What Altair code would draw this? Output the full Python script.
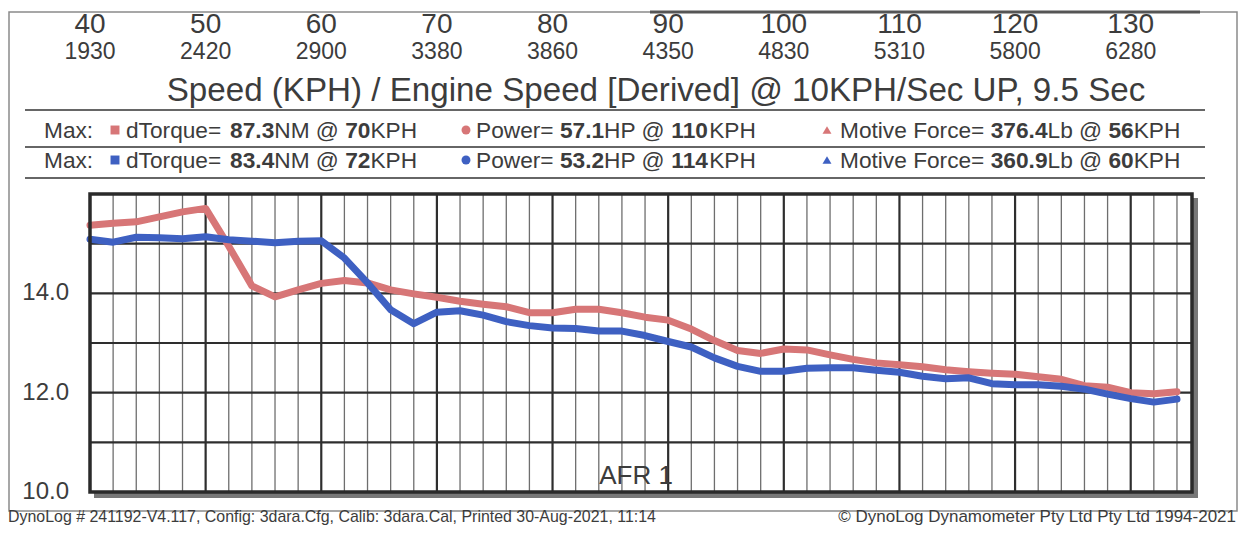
import altair as alt
import pandas as pd

# ---------------- data read from the sheet ----------------
kph = [40, 42, 44, 46, 48, 50, 52, 54, 56, 58, 60, 62, 64, 66, 68, 70, 72, 74, 76, 78,
       80, 82, 84, 86, 88, 90, 92, 94, 96, 98, 100, 102, 104, 106, 108, 110, 112, 114,
       116, 118, 120, 122, 124, 126, 128, 130, 132, 134]
afr_red = [15.37, 15.41, 15.44, 15.54, 15.64, 15.71, 14.95, 14.15, 13.93, 14.07, 14.20,
           14.26, 14.21, 14.07, 13.99, 13.92, 13.84, 13.78, 13.73, 13.61, 13.61, 13.68,
           13.68, 13.61, 13.52, 13.46, 13.28, 13.05, 12.85, 12.79, 12.88, 12.86, 12.76,
           12.67, 12.60, 12.56, 12.52, 12.46, 12.42, 12.39, 12.37, 12.32, 12.27, 12.14,
           12.11, 12.00, 11.98, 12.02]
afr_blue = [15.09, 15.03, 15.13, 15.12, 15.10, 15.14, 15.08, 15.05, 15.02, 15.05, 15.06,
            14.71, 14.21, 13.67, 13.39, 13.62, 13.65, 13.56, 13.43, 13.35, 13.30, 13.29,
            13.24, 13.24, 13.15, 13.03, 12.92, 12.70, 12.53, 12.43, 12.43, 12.49, 12.50,
            12.50, 12.45, 12.41, 12.33, 12.28, 12.30, 12.18, 12.16, 12.16, 12.13, 12.07,
            11.97, 11.88, 11.81, 11.87]
top_kph = [40, 50, 60, 70, 80, 90, 100, 110, 120, 130]
top_rpm = [1930, 2420, 2900, 3380, 3860, 4350, 4830, 5310, 5800, 6280]
y_label_values = [10, 12, 14]
minor_x = [v for v in range(42, 135, 2) if v % 10 != 0]
major_x = [50, 60, 70, 80, 90, 100, 110, 120, 130]
grid_y = [11, 12, 13, 14, 15]

title_text = "Speed (KPH) / Engine Speed [Derived] @ 10KPH/Sec UP, 9.5 Sec"
legend_rows = [
    [[("dTorque= ", 0), ("87.3", 1), ("NM @ ", 0), ("70", 1), ("KPH", 0)],
     [("Power= ", 0), ("57.1", 1), ("HP @ ", 0), ("110", 1), ("KPH", 0)],
     [("Motive Force= ", 0), ("376.4", 1), ("Lb @ ", 0), ("56", 1), ("KPH", 0)]],
    [[("dTorque= ", 0), ("83.4", 1), ("NM @ ", 0), ("72", 1), ("KPH", 0)],
     [("Power= ", 0), ("53.2", 1), ("HP @ ", 0), ("114", 1), ("KPH", 0)],
     [("Motive Force= ", 0), ("360.9", 1), ("Lb @ ", 0), ("60", 1), ("KPH", 0)]],
]
footer_left = "DynoLog # 241192-V4.117, Config: 3dara.Cfg, Calib: 3dara.Cal, Printed 30-Aug-2021, 11:14"
footer_right = "\u00a9 DynoLog Dynamometer Pty Ltd Pty Ltd 1994-2021"
afr_label = "AFR 1"

# ---------------- styling / layout ----------------
RED = "#d77677"
BLUE = "#3e60c2"
TXT = "#3c3c3c"
FONT = "Liberation Sans"
W, H = 1102, 298
PAD = {"left": 82, "top": 186, "right": 46, "bottom": 34}

ARIAL = {' ': 278, '!': 278, '#': 556, '(': 333, ')': 333, ',': 278, '-': 333, '.': 278,
         '/': 278, ':': 278, '=': 584, '@': 1015, '[': 278, ']': 278, '\u00a9': 737,
         'A': 667, 'B': 667, 'C': 722, 'D': 722, 'E': 667, 'F': 611, 'G': 778, 'H': 722,
         'I': 278, 'K': 667, 'L': 556, 'M': 833, 'N': 722, 'O': 778, 'P': 667, 'R': 722,
         'S': 667, 'T': 611, 'U': 722, 'V': 667, 'W': 944, 'a': 556, 'b': 556, 'c': 500,
         'd': 556, 'e': 556, 'f': 278, 'g': 556, 'h': 556, 'i': 222, 'j': 222, 'k': 500,
         'l': 222, 'm': 833, 'n': 556, 'o': 556, 'p': 556, 'q': 556, 'r': 333, 's': 500,
         't': 278, 'u': 556, 'v': 500, 'w': 722, 'x': 500, 'y': 500, 'z': 500}


def em(s):
    return sum(ARIAL.get(c, 556) for c in s) / 1000.0


xs = alt.Scale(domain=[40, 135.3], nice=False, zero=False)
ys = alt.Scale(domain=[10, 16], nice=False, zero=False)
one = pd.DataFrame({"o": [0]})

# page border
border = alt.Chart(one).mark_rect(fillOpacity=0, stroke="#8a8a8a", strokeWidth=1.5).encode(
    x=alt.value(-81), x2=alt.value(1147), y=alt.value(-182), y2=alt.value(317))
top_bar = alt.Chart(one).mark_rule(color="#555", strokeWidth=3).encode(
    x=alt.value(560), x2=alt.value(1110), y=alt.value(-182))

# separator rules in the header
sep = alt.Chart(pd.DataFrame({"py": [-84, -47, -16]})).mark_rule(color="#666", strokeWidth=1.8).encode(
    y=alt.Y("py:Q", scale=None), x=alt.value(-65), x2=alt.value(1115))

# grid
minor = alt.Chart(pd.DataFrame({"v": minor_x})).mark_rule(color="#6e6e6e", strokeWidth=1.3).encode(
    x=alt.X("v:Q", scale=xs, axis=None), y=alt.value(0), y2=alt.value(H))
major = alt.Chart(pd.DataFrame({"v": major_x})).mark_rule(color="#2e2e2e", strokeWidth=2.2).encode(
    x=alt.X("v:Q", scale=xs, axis=None), y=alt.value(0), y2=alt.value(H))
hgrid = alt.Chart(pd.DataFrame({"v": grid_y})).mark_rule(color="#2e2e2e", strokeWidth=2.2).encode(
    y=alt.Y("v:Q", scale=ys, axis=None), x=alt.value(0), x2=alt.value(W))

# frame with shadow
shadow_r = alt.Chart(one).mark_rule(color="#777", strokeWidth=6).encode(
    x=alt.value(W + 3), y=alt.value(4), y2=alt.value(H + 6))
shadow_b = alt.Chart(one).mark_rule(color="#777", strokeWidth=6).encode(
    y=alt.value(H + 3), x=alt.value(4), x2=alt.value(W + 6))
frame = alt.Chart(one).mark_rect(fillOpacity=0, stroke="#2a2a2a", strokeWidth=3.5).encode(
    x=alt.value(0), x2=alt.value(W), y=alt.value(0), y2=alt.value(H))

# data lines
df = pd.DataFrame({
    "kph": kph + kph,
    "afr": afr_red + afr_blue,
    "run": ["1"] * len(kph) + ["2"] * len(kph),
})
lines = alt.Chart(df).mark_line(strokeWidth=7, strokeJoin="round", strokeCap="round").encode(
    x=alt.X("kph:Q", scale=xs, axis=None),
    y=alt.Y("afr:Q", scale=ys, axis=None),
    color=alt.Color("run:N", scale=alt.Scale(domain=["1", "2"], range=[RED, BLUE]), legend=None),
)

# y labels through the y scale
ylab_df = pd.DataFrame({"v": y_label_values, "t": ["%.1f" % v for v in y_label_values]})
ylabs = alt.Chart(ylab_df).mark_text(fontSize=24, font=FONT, color=TXT, align="right",
                                     baseline="middle").encode(
    y=alt.Y("v:Q", scale=ys, axis=None), x=alt.value(-21), text="t:N")

# top speed / rpm labels
top_df = pd.DataFrame({"k": top_kph, "rpm": [str(r) for r in top_rpm], "kl": [str(k) for k in top_kph]})
kph_txt = alt.Chart(top_df).mark_text(fontSize=28, font=FONT, color=TXT, baseline="alphabetic").encode(
    x=alt.X("k:Q", scale=xs, axis=None), y=alt.value(-161), text="kl:N")
rpm_txt = alt.Chart(top_df).mark_text(fontSize=23, font=FONT, color=TXT, baseline="alphabetic").encode(
    x=alt.X("k:Q", scale=xs, axis=None), y=alt.value(-135), text="rpm:N")

title_size = 983 / em(title_text)
title = alt.Chart(one).mark_text(fontSize=title_size, font=FONT, color=TXT, baseline="alphabetic",
                                 text=title_text).encode(x=alt.value(566), y=alt.value(-93))

# legend rows
LFS = 22.7
group_x = [36, 386, 750]
row_y = [-63, -33]
seg_rows = []
for r, row in enumerate(legend_rows):
    seg_rows.append({"px": -46, "py": row_y[r], "t": "Max:", "b": 0})
    for g, group in enumerate(row):
        x = group_x[g]
        for t, b in group:
            seg_rows.append({"px": x, "py": row_y[r], "t": t, "b": b})
            x += em(t) * LFS
seg_df = pd.DataFrame(seg_rows)
leg_norm = alt.Chart(seg_df[seg_df.b == 0]).mark_text(
    fontSize=LFS, font=FONT, color=TXT, align="left", baseline="middle").encode(
    x=alt.X("px:Q", scale=None), y=alt.Y("py:Q", scale=None), text="t:N")
leg_bold = alt.Chart(seg_df[seg_df.b == 1]).mark_text(
    fontSize=LFS, font=FONT, color=TXT, align="left", baseline="middle", fontWeight="bold").encode(
    x=alt.X("px:Q", scale=None), y=alt.Y("py:Q", scale=None), text="t:N")

mk_rows = []
for r in range(2):
    col = RED if r == 0 else BLUE
    for px, shp in zip([25, 376, 737], ["square", "circle", "triangle-up"]):
        mk_rows.append({"px": px, "py": row_y[r] - 1, "shp": shp, "col": col})
markers = alt.Chart(pd.DataFrame(mk_rows)).mark_point(filled=True, size=80, opacity=1).encode(
    x=alt.X("px:Q", scale=None), y=alt.Y("py:Q", scale=None),
    shape=alt.Shape("shp:N", scale=None), color=alt.Color("col:N", scale=None))

afr_txt = alt.Chart(one).mark_text(fontSize=26, font=FONT, color=TXT, baseline="alphabetic",
                                   text=afr_label).encode(x=alt.value(546), y=alt.value(290))

fl_size = 652 / em(footer_left)
foot_l = alt.Chart(one).mark_text(fontSize=fl_size, font=FONT, color=TXT, align="left",
                                  baseline="middle", text=footer_left).encode(
    x=alt.value(-82), y=alt.value(323))
fr_size = 398 / em(footer_right)
foot_r = alt.Chart(one).mark_text(fontSize=fr_size, font=FONT, color=TXT, align="right",
                                  baseline="middle", text=footer_right).encode(
    x=alt.value(1146), y=alt.value(323))

chart = alt.layer(
    border, top_bar, sep, minor, major, hgrid, shadow_r, shadow_b, lines, frame, ylabs,
    kph_txt, rpm_txt, title, leg_norm, leg_bold, markers, afr_txt, foot_l, foot_r,
).properties(
    width=W, height=H,
    autosize=alt.AutoSizeParams(type="none"),
    padding=PAD,
    background="white",
).configure_view(stroke=None)

chart.save("out.html", embed_options={"renderer": "svg", "actions": False})
